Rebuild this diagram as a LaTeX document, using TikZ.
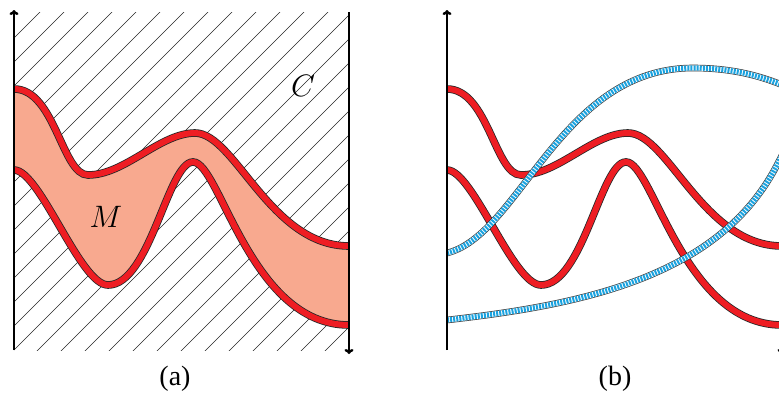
\documentclass[tikz,border=0pt]{standalone}
\usepackage{fix-cm}
\usepackage{fontspec}
\setmainfont{Liberation Serif}
\usetikzlibrary{arrows.meta}
\definecolor{myred}{HTML}{EE1D23}
\definecolor{mysalmon}{HTML}{F8A98F}
\definecolor{mycyan}{HTML}{1BA3E0}
\tikzset{
  axisline/.style={line width=2.4pt, black},
  axisarrow/.style={-{To[length=5pt,width=9pt]}},
  hatchline/.style={line width=0.6pt, black!85},
  redout/.style={line width=7.6pt, black!85},
  redin/.style={line width=6pt, myred},
  blueout/.style={line width=6.6pt, black!80},
  bluewhite/.style={line width=5.2pt, white},
  bluedash/.style={line width=5.2pt, mycyan, dash pattern=on 2pt off 1.1pt},
  mathlabel/.style={font=\fontsize{31}{31}\selectfont, inner sep=0pt},
  caplabel/.style={font=\fontsize{28}{28}\selectfont, inner sep=0pt}
}
\def\curveU{(14,89) .. controls (55,89) and (62,175) .. (88,175) .. controls (125,175) and (160,133) .. (195,133) .. controls (235,133) and (270,246) .. (349,246)}
\def\curveL{(14,170) .. controls (40,170) and (80,285) .. (108,285) .. controls (150,285) and (168,162) .. (193,162) .. controls (220,162) and (250,325) .. (349,325)}
\def\bluecurveA{(14,253) .. controls (87,235) and (127,68) .. (260,68) .. controls (317,68) and (357,85) .. (397,110)}
\def\bluecurveB{(14,320) .. controls (147,305) and (287,278) .. (345,163) .. controls (362,130) and (372,115) .. (382,100)}
\begin{document}
\begin{tikzpicture}[x=1pt,y=-1pt]
\useasboundingbox (0,0) rectangle (779,405);
\clip (0,0) rectangle (779,405);
% ---------- panel (a) ----------
\begin{scope}
  \clip (14,12) rectangle (349,350);
  \foreach \c in {4,28,...,724} {
    \draw[hatchline] (\c-400,400) -- (\c,0);
  }
\end{scope}
\fill[mysalmon] (14,89) .. controls (55,89) and (62,175) .. (88,175) .. controls (125,175) and (160,133) .. (195,133) .. controls (235,133) and (270,246) .. (349,246)
  -- (349,325) .. controls (250,325) and (220,162) .. (193,162) .. controls (168,162) and (150,285) .. (108,285) .. controls (80,285) and (40,170) .. (14,170) -- cycle;
\draw[redout] \curveU;
\draw[redin] \curveU;
\draw[redout] \curveL;
\draw[redin] \curveL;
\draw[axisline, axisarrow] (14,350) -- (14,10);
\draw[axisline, axisarrow] (349,12) -- (349,354);
\node[mathlabel] (C) at (303,86) {$C$};
\node[mathlabel] (M) at (106,217) {$M$};
\node[caplabel] (la) at (175,379) {(a)};
% ---------- panel (b) ----------
\begin{scope}[xshift=433pt]
  \draw[redout] \curveU; \draw[redin] \curveU;
  \draw[redout] \curveL; \draw[redin] \curveL;
  \draw[blueout] \bluecurveA; \draw[bluewhite] \bluecurveA; \draw[bluedash] \bluecurveA;
  \draw[blueout] \bluecurveB; \draw[bluewhite] \bluecurveB; \draw[bluedash] \bluecurveB;
  \draw[axisline, axisarrow] (14,350) -- (14,10);
  \draw[axisline, axisarrow] (349,12) -- (349,354);
\end{scope}
\node[caplabel] (lb) at (615,379) {(b)};
\end{tikzpicture}
\end{document}
